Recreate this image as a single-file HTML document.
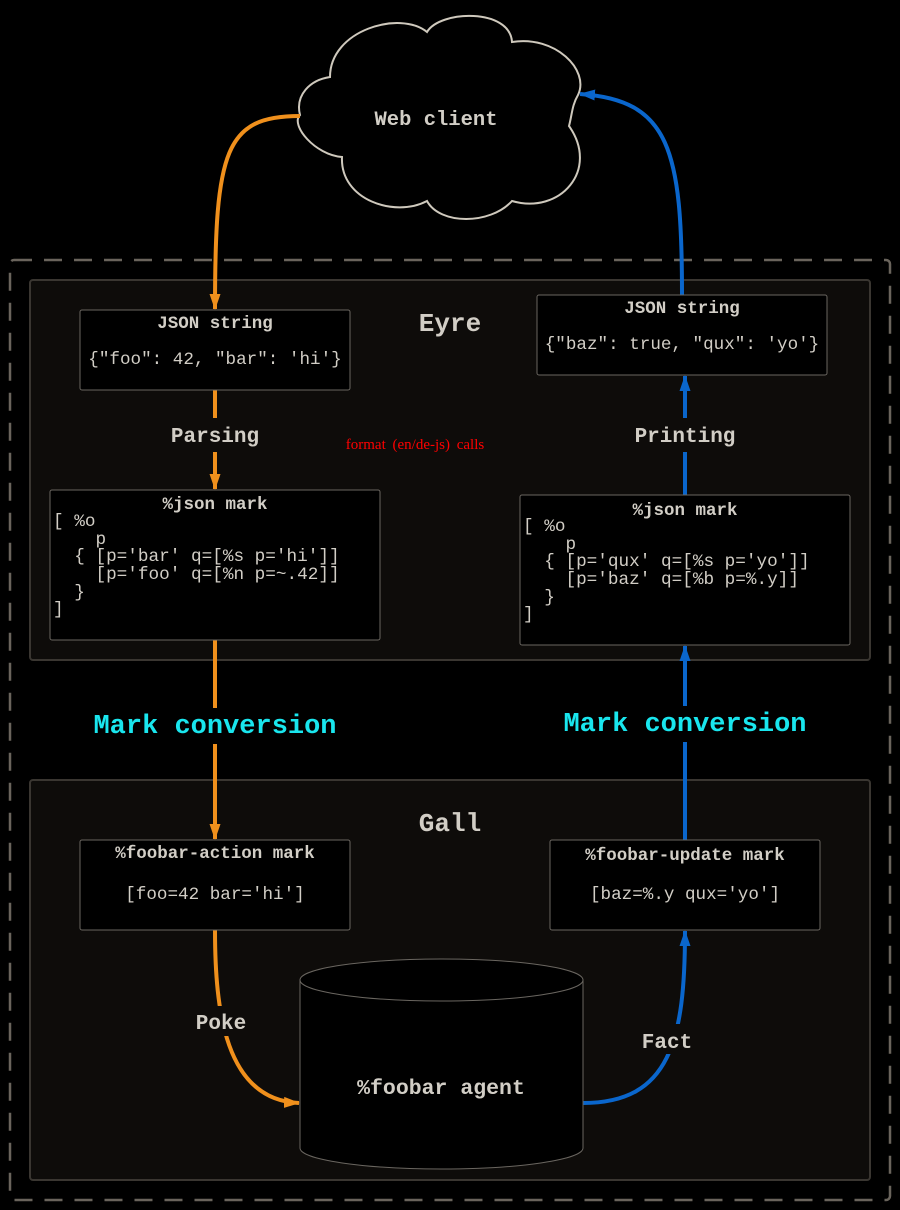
<!DOCTYPE html>
<html><head><meta charset="utf-8"><style>
body{margin:0;background:#000;}
svg{display:block;}
.t{font-family:"Liberation Mono",monospace;fill:#d2cec6;}
.b{font-weight:bold;}
</style></head><body>
<svg width="900" height="1210" viewBox="0 0 900 1210" xmlns="http://www.w3.org/2000/svg">
<defs>
<marker id="ao" markerWidth="16" markerHeight="12" refX="15" refY="6" orient="auto" markerUnits="userSpaceOnUse"><path d="M0,0.5 L16,6 L0,11.5 z" fill="#f0901c"/></marker>
<marker id="ab" markerWidth="16" markerHeight="12" refX="15" refY="6" orient="auto" markerUnits="userSpaceOnUse"><path d="M0,0.5 L16,6 L0,11.5 z" fill="#0a66cc"/></marker>
</defs>
<rect width="900" height="1210" fill="#000"/>
<rect x="10" y="260" width="880" height="940" rx="4" fill="none" stroke="#6a645c" stroke-width="2.5" stroke-dasharray="18,12"/>
<rect x="30" y="280" width="840" height="380" rx="3" fill="#0e0c0a" stroke="#3a3631" stroke-width="2"/>
<rect x="30" y="780" width="840" height="400" rx="3" fill="#0e0c0a" stroke="#3a3631" stroke-width="2"/>
<text class="t b" x="450" y="331" font-size="26" text-anchor="middle">Eyre</text>
<text class="t b" x="450" y="831" font-size="26" text-anchor="middle">Gall</text>

<path d="M330,77 C330,30 400,10 427,32 C440,10 510,8 512,42 C555,35 590,70 578,95 C572,105 572,115 569,126 C600,170 560,215 512,201 C490,225 440,225 427,201 C395,218 340,200 342,157 C315,155 290,125 300,115 C295,95 310,80 330,77 Z" fill="#000" stroke="#cfc9bd" stroke-width="2"/>
<text class="t b" x="436" y="125" font-size="20.5" text-anchor="middle">Web client</text>

<path d="M300,116 C225,116 215,150 215,309" fill="none" stroke="#f0901c" stroke-width="4" marker-end="url(#ao)"/>
<path d="M215,390 L215,489" fill="none" stroke="#f0901c" stroke-width="4" marker-end="url(#ao)"/>
<path d="M215,640 L215,839" fill="none" stroke="#f0901c" stroke-width="4" marker-end="url(#ao)"/>
<path d="M215,930 C215,1010 225,1100 299,1103" fill="none" stroke="#f0901c" stroke-width="4" marker-end="url(#ao)"/>
<path d="M583,1103 C670,1103 685,1040 685,931" fill="none" stroke="#0a66cc" stroke-width="4" marker-end="url(#ab)"/>
<path d="M685,840 L685,646" fill="none" stroke="#0a66cc" stroke-width="4" marker-end="url(#ab)"/>
<path d="M685,495 L685,376" fill="none" stroke="#0a66cc" stroke-width="4" marker-end="url(#ab)"/>
<path d="M682,295 C682,150 670,100 580,94" fill="none" stroke="#0a66cc" stroke-width="4" marker-end="url(#ab)"/>

<rect x="160" y="418" width="110" height="34" fill="#0e0c0a"/>
<rect x="625" y="418" width="120" height="34" fill="#0e0c0a"/>
<rect x="90" y="708" width="250" height="36" fill="#000"/>
<rect x="560" y="706" width="250" height="36" fill="#000"/>
<rect x="188" y="1006" width="66" height="30" fill="#0e0c0a"/>
<rect x="636" y="1024" width="62" height="30" fill="#0e0c0a"/>
<text class="t b" x="215" y="442" font-size="21" text-anchor="middle">Parsing</text>
<text class="t b" x="685" y="442" font-size="21" text-anchor="middle">Printing</text>
<text class="t b" x="215" y="733" font-size="27" text-anchor="middle" style="fill:#19e6ee">Mark conversion</text>
<text class="t b" x="685" y="731" font-size="27" text-anchor="middle" style="fill:#19e6ee">Mark conversion</text>
<text class="t b" x="221" y="1029" font-size="21" text-anchor="middle">Poke</text>
<text class="t b" x="667" y="1048" font-size="21" text-anchor="middle">Fact</text>
<text x="415" y="449" font-size="15" text-anchor="middle" fill="#ff0000" font-family="Liberation Serif, serif" word-spacing="3">format (en/de-js) calls</text>

<g>
<rect x="80" y="310" width="270" height="80" rx="2" fill="#000" stroke="#6a6660"/>
<text class="t b" x="215" y="328" font-size="17.5" text-anchor="middle">JSON string</text>
<text class="t" x="215" y="364" font-size="17.6" text-anchor="middle">{"foo": 42, "bar": 'hi'}</text>
</g>
<g>
<rect x="537" y="295" width="290" height="80" rx="2" fill="#000" stroke="#6a6660"/>
<text class="t b" x="682" y="313" font-size="17.5" text-anchor="middle">JSON string</text>
<text class="t" x="682" y="349" font-size="17.6" text-anchor="middle">{"baz": true, "qux": 'yo'}</text>
</g>
<g>
<rect x="50" y="490" width="330" height="150" rx="2" fill="#000" stroke="#6a6660"/>
<text class="t b" x="215" y="509" font-size="17.5" text-anchor="middle">%json mark</text>
<text class="t" font-size="17.7" xml:space="preserve"><tspan x="53" y="526">[ %o</tspan><tspan x="53" y="544">    p</tspan><tspan x="53" y="561">  { [p='bar' q=[%s p='hi']]</tspan><tspan x="53" y="579">    [p='foo' q=[%n p=~.42]]</tspan><tspan x="53" y="597">  }</tspan><tspan x="53" y="614">]</tspan></text>
</g>
<g>
<rect x="520" y="495" width="330" height="150" rx="2" fill="#000" stroke="#6a6660"/>
<text class="t b" x="685" y="515" font-size="17.5" text-anchor="middle">%json mark</text>
<text class="t" font-size="17.7" xml:space="preserve"><tspan x="523" y="531">[ %o</tspan><tspan x="523" y="549">    p</tspan><tspan x="523" y="566">  { [p='qux' q=[%s p='yo']]</tspan><tspan x="523" y="584">    [p='baz' q=[%b p=%.y]]</tspan><tspan x="523" y="602">  }</tspan><tspan x="523" y="619">]</tspan></text>
</g>
<g>
<rect x="80" y="840" width="270" height="90" rx="2" fill="#000" stroke="#6a6660"/>
<text class="t b" x="215" y="858" font-size="17.5" text-anchor="middle">%foobar-action mark</text>
<text class="t" x="215" y="899" font-size="17.6" text-anchor="middle">[foo=42 bar='hi']</text>
</g>
<g>
<rect x="550" y="840" width="270" height="90" rx="2" fill="#000" stroke="#6a6660"/>
<text class="t b" x="685" y="860" font-size="17.5" text-anchor="middle">%foobar-update mark</text>
<text class="t" x="685" y="899" font-size="17.6" text-anchor="middle">[baz=%.y qux='yo']</text>
</g>
<g>
<path d="M300,980 L300,1148 A141.5,21 0 0 0 583,1148 L583,980 A141.5,21 0 0 0 300,980 Z" fill="#000" stroke="#6a6660"/>
<path d="M300,980 A141.5,21 0 0 0 583,980" fill="none" stroke="#6a6660"/>
<text class="t b" x="441" y="1094" font-size="21.5" text-anchor="middle">%foobar agent</text>
</g>
</svg>
</body></html>
